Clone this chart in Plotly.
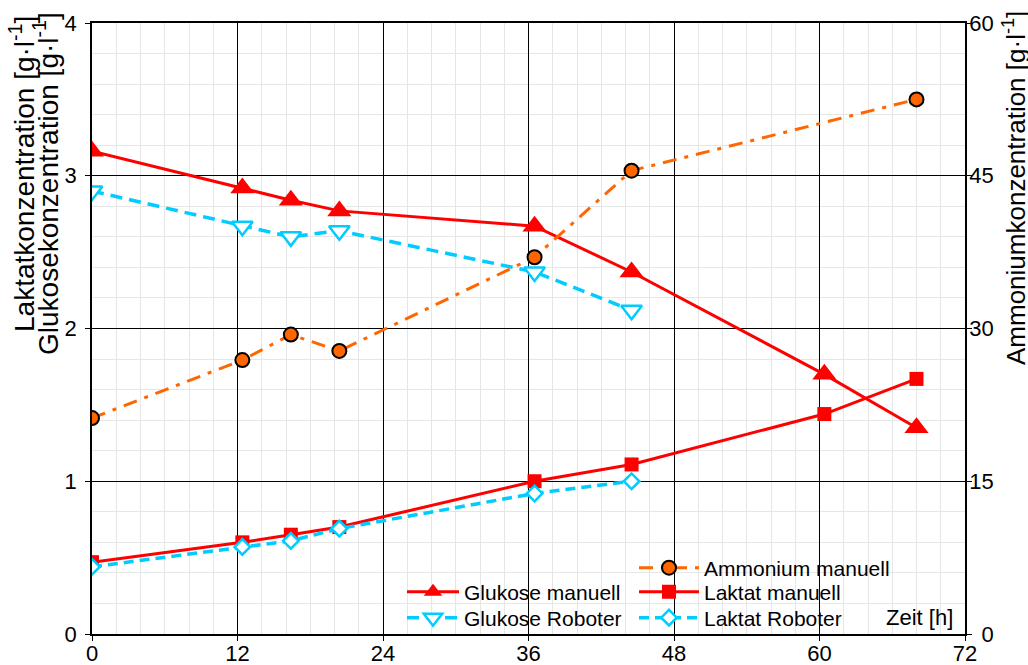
import plotly.graph_objects as go

# Sampling times [h]
t_glu_manuell = [0, 12.4, 16.4, 20.4, 36.5, 44.5, 60.4, 68.0]
t_glu_roboter = [0, 12.4, 16.4, 20.4, 36.5, 44.5]
t_amm_manuell = [0, 12.4, 16.4, 20.4, 36.5, 44.5, 68.0]
t_lak_manuell = [0, 12.4, 16.4, 20.4, 36.5, 44.5, 60.4, 68.0]
t_lak_roboter = [0, 12.4, 16.4, 20.4, 36.5, 44.5]

# Concentrations [g/l]
glukose_manuell = [3.16, 2.92, 2.84, 2.77, 2.67, 2.37, 1.70, 1.35]
glukose_roboter = [2.90, 2.67, 2.60, 2.64, 2.37, 2.12]
ammonium_manuell = [21.2, 26.9, 29.4, 27.8, 37.0, 45.5, 52.5]
laktat_manuell = [0.47, 0.60, 0.65, 0.70, 1.00, 1.11, 1.44, 1.67]
laktat_roboter = [0.44, 0.57, 0.61, 0.69, 0.92, 1.00]

x_ticks = [0, 12, 24, 36, 48, 60, 72]
y_ticks = [0, 1, 2, 3, 4]
y2_ticks = [0, 15, 30, 45, 60]

RED = "#FF0000"
CYAN = "#00CCFF"
ORANGE = "#FF6600"
FONT = "Liberation Sans, Arial, sans-serif"
FIGSPACE = "\u2007"  # digit-wide space, keeps right-axis labels right-aligned

# plot area in pixels
L, R, T, B = 92, 63, 23, 31
W, H = 1028, 665
PW, PH = W - L - R, H - T - B


def px_x(p):
    return (p - L) / PW


def px_y(p):
    return (H - B - p) / PH


fig = go.Figure()

fig.add_trace(go.Scatter(
    x=t_glu_manuell, y=glukose_manuell, name="Glukose manuell",
    mode="lines+markers", legend="legend",
    line=dict(color=RED, width=3),
    marker=dict(symbol="triangle-up", size=21, color=RED),
))
fig.add_trace(go.Scatter(
    x=t_glu_roboter, y=glukose_roboter, name="Glukose Roboter",
    mode="lines+markers", legend="legend2",
    line=dict(color=CYAN, width=3.5, dash="12px,7px"),
    marker=dict(symbol="triangle-down", size=18, color="white",
                line=dict(color=CYAN, width=2.5)),
))
fig.add_trace(go.Scatter(
    x=t_amm_manuell, y=ammonium_manuell, name="Ammonium manuell",
    mode="lines+markers", legend="legend3", yaxis="y2",
    line=dict(color=ORANGE, width=3, dash="14px,8px,4px,8px"),
    marker=dict(symbol="circle", size=14, color=ORANGE,
                line=dict(color="black", width=2)),
))
fig.add_trace(go.Scatter(
    x=t_lak_manuell, y=laktat_manuell, name="Laktat manuell",
    mode="lines+markers", legend="legend4",
    line=dict(color=RED, width=3),
    marker=dict(symbol="square", size=14, color=RED),
))
fig.add_trace(go.Scatter(
    x=t_lak_roboter, y=laktat_roboter, name="Laktat Roboter",
    mode="lines+markers", legend="legend5",
    line=dict(color=CYAN, width=3.5, dash="10px,6px"),
    marker=dict(symbol="diamond", size=12, color="white",
                line=dict(color=CYAN, width=2.5)),
))

axis_common = dict(
    ticks="outside", ticklen=5, tickwidth=1.3, tickcolor="black",
    showline=True, linecolor="black", linewidth=1.5,
    tickfont=dict(family=FONT, size=22, color="black"),
    zeroline=False, automargin=False, fixedrange=True,
)


def legend_row(x_px, y_px, item_w):
    # one legend per row so that rows can sit in a two-column grid
    return dict(
        x=px_x(x_px), y=px_y(y_px), xanchor="left", yanchor="middle",
        bgcolor="rgba(0,0,0,0)", borderwidth=0, itemwidth=item_w,
        font=dict(family=FONT, size=21, color="black"),
        itemclick=False, itemdoubleclick=False,
    )


def y2_label(v):
    s = str(v)
    return FIGSPACE * (2 - len(s)) + s


fig.update_layout(
    width=W, height=H,
    margin=dict(l=L, r=R, t=T, b=B, pad=0),
    paper_bgcolor="white", plot_bgcolor="white",
    font=dict(family=FONT, color="black"),
    xaxis=dict(
        range=[0, 72], tickvals=x_ticks, ticktext=[str(v) for v in x_ticks],
        showgrid=True, gridcolor="black", gridwidth=1.3, mirror=True,
        minor=dict(dtick=2, tick0=0, showgrid=True, gridcolor="#e6e6e6",
                   gridwidth=1, ticks=""),
        ticklabelstandoff=-6,
        **axis_common,
    ),
    yaxis=dict(
        range=[0, 4], tickvals=y_ticks, ticktext=[str(v) for v in y_ticks],
        showgrid=True, gridcolor="black", gridwidth=1.3,
        minor=dict(dtick=0.2, tick0=0, showgrid=True, gridcolor="#e6e6e6",
                   gridwidth=1, ticks=""),
        ticklabelstandoff=4,
        **axis_common,
    ),
    yaxis2=dict(
        range=[0, 60], tickvals=y2_ticks, ticktext=[y2_label(v) for v in y2_ticks],
        overlaying="y", side="right", showgrid=False,
        ticklabelstandoff=-7,
        **axis_common,
    ),
    legend=legend_row(402, 592, 52),
    legend2=legend_row(402, 618, 52),
    legend3=legend_row(634, 568, 60),
    legend4=legend_row(634, 592, 60),
    legend5=legend_row(634, 618, 60),
    shapes=[dict(
        type="rect", xref="paper", yref="paper", layer="between",
        x0=px_x(384), x1=1, y0=0, y1=px_y(552),
        fillcolor="white", line=dict(width=0),
    )],
    annotations=[
        dict(text="Laktatkonzentration [g·l<sup>-1</sup>]", textangle=-90,
             xref="paper", yref="paper", x=px_x(22), y=px_y(174),
             xanchor="center", yanchor="middle", showarrow=False,
             font=dict(family=FONT, size=28, color="black")),
        dict(text="Glukosekonzentration [g·l<sup>-1</sup>]", textangle=-90,
             xref="paper", yref="paper", x=px_x(46), y=px_y(184),
             xanchor="center", yanchor="middle", showarrow=False,
             font=dict(family=FONT, size=28, color="black")),
        dict(text="Ammoniumkonzentration [g·l<sup>-1</sup>]", textangle=-90,
             xref="paper", yref="paper", x=px_x(1015), y=px_y(188),
             xanchor="center", yanchor="middle", showarrow=False,
             font=dict(family=FONT, size=26, color="black")),
        dict(text="Zeit [h]", xref="paper", yref="paper",
             x=px_x(955), y=px_y(617), xanchor="right", yanchor="middle",
             showarrow=False, font=dict(family=FONT, size=22, color="black")),
    ],
    showlegend=True,
)

fig.write_html("out.html", config={"displayModeBar": False})
